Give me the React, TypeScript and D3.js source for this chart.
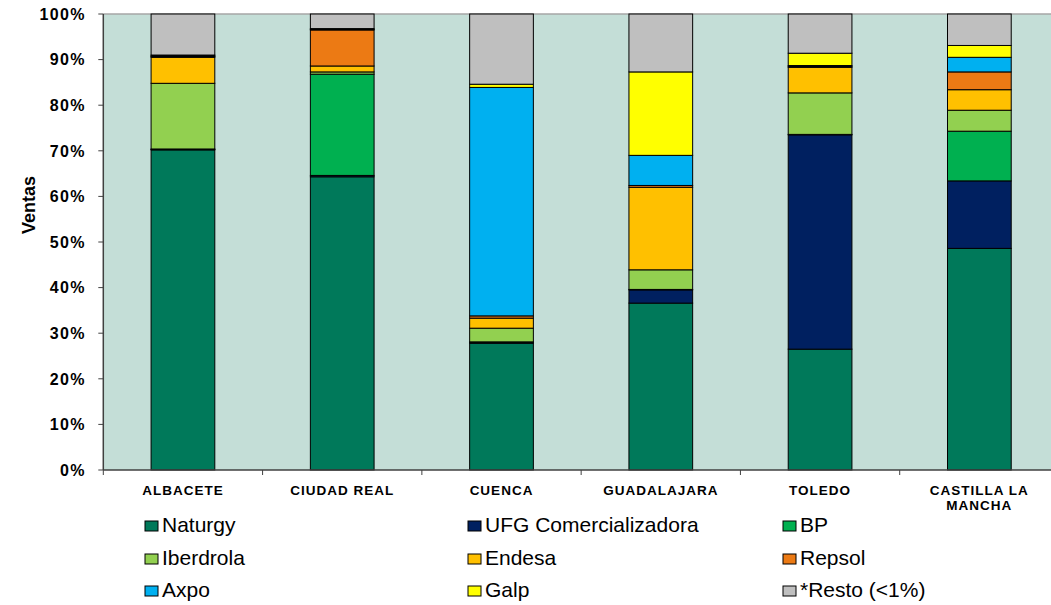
import * as d3 from 'd3';

const categories = ['ALBACETE', 'CIUDAD REAL', 'CUENCA', 'GUADALAJARA', 'TOLEDO', 'CASTILLA LA MANCHA'];
const categoryLines = [['ALBACETE'], ['CIUDAD REAL'], ['CUENCA'], ['GUADALAJARA'], ['TOLEDO'], ['CASTILLA LA', 'MANCHA']];

const seriesNames = ['Naturgy', 'UFG Comercializadora', 'BP', 'Iberdrola', 'Endesa', 'Repsol', 'Axpo', 'Galp', '*Resto (<1%)'];
const seriesColors = ['#00795A', '#002060', '#00B050', '#92D050', '#FFC000', '#EC7A14', '#00B0F0', '#FFFF00', '#BFBFBF'];

// % of sales per province, one array per company
const naturgy = [70.2, 64.3, 27.8, 36.6, 26.5, 48.6];
const ufg = [0.1, 0.3, 0.2, 2.9, 47.0, 14.8];
const bp = [0.1, 22.2, 0.1, 0.1, 0.1, 10.9];
const iberdrola = [14.4, 0.5, 3.0, 4.3, 9.1, 4.6];
const endesa = [5.7, 1.3, 2.2, 18.1, 5.6, 4.5];
const repsol = [0.2, 7.9, 0.5, 0.4, 0.2, 3.9];
const axpo = [0.1, 0.1, 50.1, 6.6, 0.2, 3.2];
const galp = [0.2, 0.2, 0.7, 18.3, 2.7, 2.6];
const resto = [9.0, 3.2, 15.4, 12.7, 8.6, 6.9];

const yTicks = [0, 10, 20, 30, 40, 50, 60, 70, 80, 90, 100];

const W = 1051;
const H = 605;
const plotLeft = 103.3;
const plotRight = 1059;
const plotTop = 14;
const plotBottom = 470;

export default function App() {
  const series = [naturgy, ufg, bp, iberdrola, endesa, repsol, axpo, galp, resto];
  const rows = categories.map((c, i) => {
    const r: Record<string, number | string> = { cat: c };
    seriesNames.forEach((s, j) => (r[s] = series[j][i]));
    return r;
  });
  const stacked = d3.stack<any>().keys(seriesNames)(rows);

  const x = d3.scaleBand<string>().domain(categories).range([plotLeft, plotRight]).paddingInner(0.6).paddingOuter(0.3);
  const y = d3.scaleLinear().domain([0, 100]).range([plotBottom, plotTop]);
  const step = x.step();
  const boundaries = d3.range(categories.length + 1).map((i) => plotLeft + i * step);

  const legendCols = [145, 468, 783];
  const legendRows = [532, 565, 597];

  return (
    <div style={{ position: 'fixed', left: 0, top: 0 }}>
      <svg width={W} height={H} style={{ display: 'block', fontFamily: 'Arial, "Liberation Sans", sans-serif' }}>
        <rect x={0} y={0} width={W} height={H} fill="#ffffff" />
        <rect x={plotLeft} y={plotTop} width={plotRight - plotLeft} height={plotBottom - plotTop} fill="#C4DED7" />
        <line x1={plotLeft} x2={plotRight} y1={plotTop} y2={plotTop} stroke="#A6A6A6" strokeWidth={1.5} />

        {stacked.map((layer, j) => (
          <g key={seriesNames[j]} fill={seriesColors[j]}>
            {layer.map((d, i) => (
              <rect
                key={i}
                x={x(categories[i])}
                y={y(d[1])}
                width={x.bandwidth()}
                height={y(d[0]) - y(d[1])}
                stroke="#000"
                strokeWidth={1}
              />
            ))}
          </g>
        ))}

        {/* y axis */}
        <line x1={plotLeft} x2={plotLeft} y1={plotTop} y2={plotBottom} stroke="#404040" strokeWidth={1.5} />
        {yTicks.map((t) => (
          <g key={t}>
            <line x1={plotLeft - 5} x2={plotLeft} y1={y(t)} y2={y(t)} stroke="#404040" strokeWidth={1} />
            <text
              x={86}
              y={y(t)}
              dy="0.36em"
              textAnchor="end"
              fontSize={16}
              fontWeight="bold"
              letterSpacing={1.4}
            >
              {t}%
            </text>
          </g>
        ))}
        <text
          transform={`translate(35,205) rotate(-90)`}
          textAnchor="middle"
          fontSize={18}
          fontWeight="bold"
        >
          Ventas
        </text>

        {/* x axis */}
        <line x1={plotLeft} x2={plotRight} y1={plotBottom} y2={plotBottom} stroke="#404040" strokeWidth={1.5} />
        {boundaries.map((bx, i) => (
          <line key={i} x1={bx} x2={bx} y1={plotBottom} y2={plotBottom + 5} stroke="#404040" strokeWidth={1} />
        ))}
        {categoryLines.map((lines, i) => (
          <text
            key={i}
            x={(x(categories[i]) as number) + x.bandwidth() / 2}
            y={495}
            textAnchor="middle"
            fontSize={13.5}
            fontWeight="bold"
            letterSpacing={1}
          >
            {lines.map((l, k) => (
              <tspan key={k} x={(x(categories[i]) as number) + x.bandwidth() / 2} dy={k === 0 ? 0 : 15}>
                {l}
              </tspan>
            ))}
          </text>
        ))}

        {/* legend */}
        {seriesNames.map((s, j) => {
          const lx = legendCols[j % 3];
          const ly = legendRows[Math.floor(j / 3)];
          return (
            <g key={s}>
              <rect x={lx} y={ly - 11} width={13} height={10} fill={seriesColors[j]} stroke="#000" strokeWidth={1} />
              <text x={lx + 17} y={ly} fontSize={21}>
                {s}
              </text>
            </g>
          );
        })}
      </svg>
    </div>
  );
}
